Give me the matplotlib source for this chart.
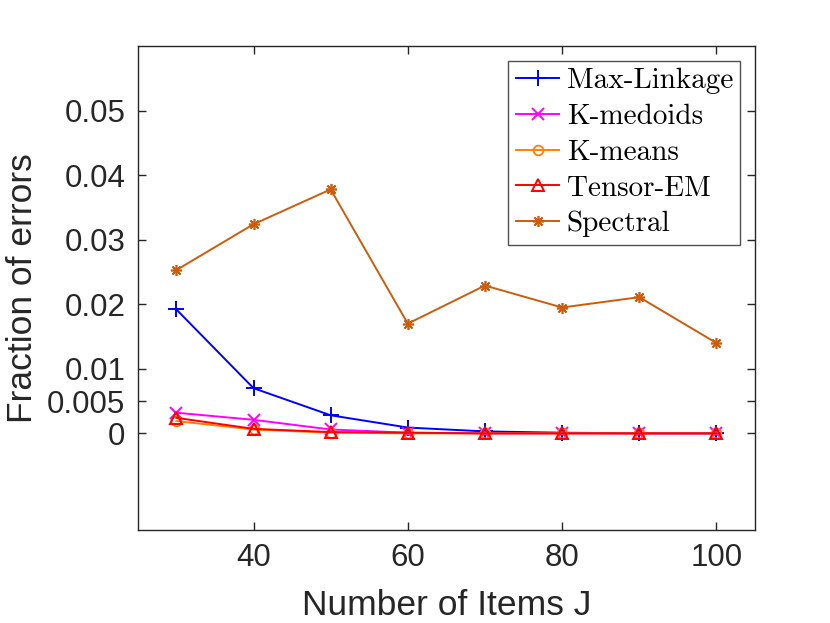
import matplotlib
matplotlib.use("Agg")
import matplotlib.pyplot as plt
from matplotlib.font_manager import FontProperties

# Values
items_j = [30, 40, 50, 60, 70, 80, 90, 100]
max_linkage = [0.0192, 0.0070, 0.0028, 0.0009, 0.0003, 0.0001, 0.0, 0.0]
k_medoids = [0.0032, 0.0021, 0.0006, 0.0001, 0.0, 0.0, 0.0, 0.0]
k_means = [0.0019, 0.0006, 0.0001, 0.0, 0.0, 0.0, 0.0, 0.0]
tensor_em = [0.0024, 0.0007, 0.0002, 0.0001, 0.0, 0.0, 0.0, 0.0]
spectral = [0.0253, 0.0324, 0.0378, 0.0170, 0.0229, 0.0195, 0.0211, 0.0140]

y_ticks = [0, 0.005, 0.01, 0.02, 0.03, 0.04, 0.05]
y_tick_labels = ["0", "0.005", "0.01", "0.02", "0.03", "0.04", "0.05"]
x_ticks = [40, 60, 80, 100]

TEXT_COLOUR = "#262626"

fig = plt.figure(figsize=(8.3, 6.23), dpi=100)
ax = fig.add_axes([0.166, 0.149, 0.7436, 0.777])

lw = 1.4
ax.plot(items_j, max_linkage, color="blue", marker="+", markersize=11,
        markeredgewidth=1.4, lw=lw, label="Max-Linkage")
ax.plot(items_j, k_medoids, color="magenta", marker="x", markersize=8,
        markeredgewidth=1.4, lw=lw, label="K-medoids")
ax.plot(items_j, k_means, color="#FF8000", marker="o", markersize=7,
        markerfacecolor="none", markeredgewidth=1.3, lw=lw, label="K-means")
ax.plot(items_j, tensor_em, color="red", marker="^", markersize=8,
        markerfacecolor="none", markeredgewidth=1.4, lw=lw, label="Tensor-EM")
ax.plot(items_j, spectral, color="#CF5B0C", marker=(8, 2, 0), markersize=8,
        markeredgewidth=1.2, lw=lw, label="Spectral")

ax.set_xlim(25, 105)
ax.set_ylim(-0.015, 0.06)
ax.set_xticks(x_ticks)
ax.set_yticks(y_ticks)
ax.set_yticklabels(y_tick_labels)

tick_font = FontProperties(family="Liberation Sans", size=22.5)
label_font = FontProperties(family="Liberation Sans", size=25.5)
for lab in ax.get_xticklabels() + ax.get_yticklabels():
    lab.set_fontproperties(tick_font)
    lab.set_color(TEXT_COLOUR)

ax.tick_params(direction="in", top=True, right=True, length=6, width=1,
               color=TEXT_COLOUR, pad=9)
for spine in ax.spines.values():
    spine.set_color(TEXT_COLOUR)
    spine.set_linewidth(1)

ax.set_xlabel("Number of Items J", fontproperties=label_font,
              color=TEXT_COLOUR, labelpad=12)
ax.set_ylabel("Fraction of errors", fontproperties=label_font,
              color=TEXT_COLOUR, labelpad=6)

legend_font = FontProperties(family="cmr10", size=21)
leg = ax.legend(loc="upper right", prop=legend_font, frameon=True,
                fancybox=False, edgecolor=TEXT_COLOUR, handlelength=1.5,
                handletextpad=0.25, labelspacing=0.32, borderpad=0.25,
                borderaxespad=0.5)
leg.get_frame().set_linewidth(1)

fig.savefig("out.png", dpi=100)
